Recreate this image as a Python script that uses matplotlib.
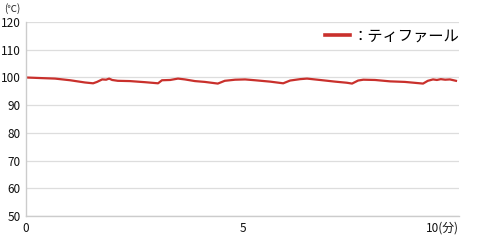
import matplotlib
matplotlib.use("Agg")
import matplotlib.pyplot as plt

plt.rcParams["font.family"] = ["Noto Sans CJK JP", "DejaVu Sans"]

# 経過時間 [分] と温度 [℃]
minutes = [0.00, 0.32, 0.67, 1.02, 1.36, 1.55, 1.64, 1.76, 1.85, 1.92, 1.99, 2.12,
           2.40, 2.75, 3.05, 3.14, 3.33, 3.51, 3.67, 3.90, 4.13, 4.43, 4.59, 4.83,
           5.06, 5.29, 5.64, 5.94, 6.10, 6.33, 6.49, 6.79, 7.14, 7.41, 7.53, 7.67,
           7.79, 8.06, 8.41, 8.75, 9.17, 9.28, 9.40, 9.49, 9.58, 9.68, 9.79, 9.93]
temp = [100.0, 99.8, 99.6, 99.0, 98.2, 97.9, 98.4, 99.3, 99.2, 99.6, 99.1, 98.8,
        98.7, 98.3, 97.9, 99.0, 99.1, 99.6, 99.3, 98.7, 98.4, 97.8, 98.8, 99.2,
        99.3, 99.0, 98.5, 97.9, 98.9, 99.4, 99.6, 99.1, 98.5, 98.1, 97.8, 98.9,
        99.2, 99.1, 98.6, 98.4, 97.8, 98.8, 99.3, 99.1, 99.4, 99.2, 99.3, 98.8]
series_label = "：ティファール"

y_ticks = [50, 60, 70, 80, 90, 100, 110, 120]
x_ticks = [0, 5, 10]
x_ticklabels = ["0", "5", "10(分)"]

fig = plt.figure(figsize=(5, 2.4), dpi=100)
ax = fig.add_axes([0.052, 0.10, 0.866, 0.808])

ax.plot(minutes, temp, color="#c9302c", linewidth=1.6, label=series_label)

ax.set_xlim(0, 10)
ax.set_ylim(50, 120)
ax.set_yticks(y_ticks)
ax.set_xticks(x_ticks)
ax.set_xticklabels(x_ticklabels)
ax.tick_params(length=0, labelsize=8.5, colors="#111111", pad=4)
# 右端のラベルは軸の内側に寄せる
ax.get_xticklabels()[-1].set_horizontalalignment("right")
ax.get_xticklabels()[-1].set_x(10.1)
ax.grid(axis="y", color="#dddddd", linewidth=0.9)
ax.set_axisbelow(True)

for s in ["top", "right"]:
    ax.spines[s].set_visible(False)
for s in ["left", "bottom"]:
    ax.spines[s].set_color("#cccccc")
    ax.spines[s].set_linewidth(1.0)

fig.text(0.008, 0.965, "(℃)", fontsize=7, color="#222222", va="center")

leg = ax.legend(loc="center right", bbox_to_anchor=(0.93, 0.85),
                bbox_transform=fig.transFigure, frameon=False, fontsize=11,
                handlelength=1.6, handletextpad=0.15, borderaxespad=0)
leg.get_lines()[0].set_linewidth(2.6)

fig.savefig("out.png", dpi=100)
